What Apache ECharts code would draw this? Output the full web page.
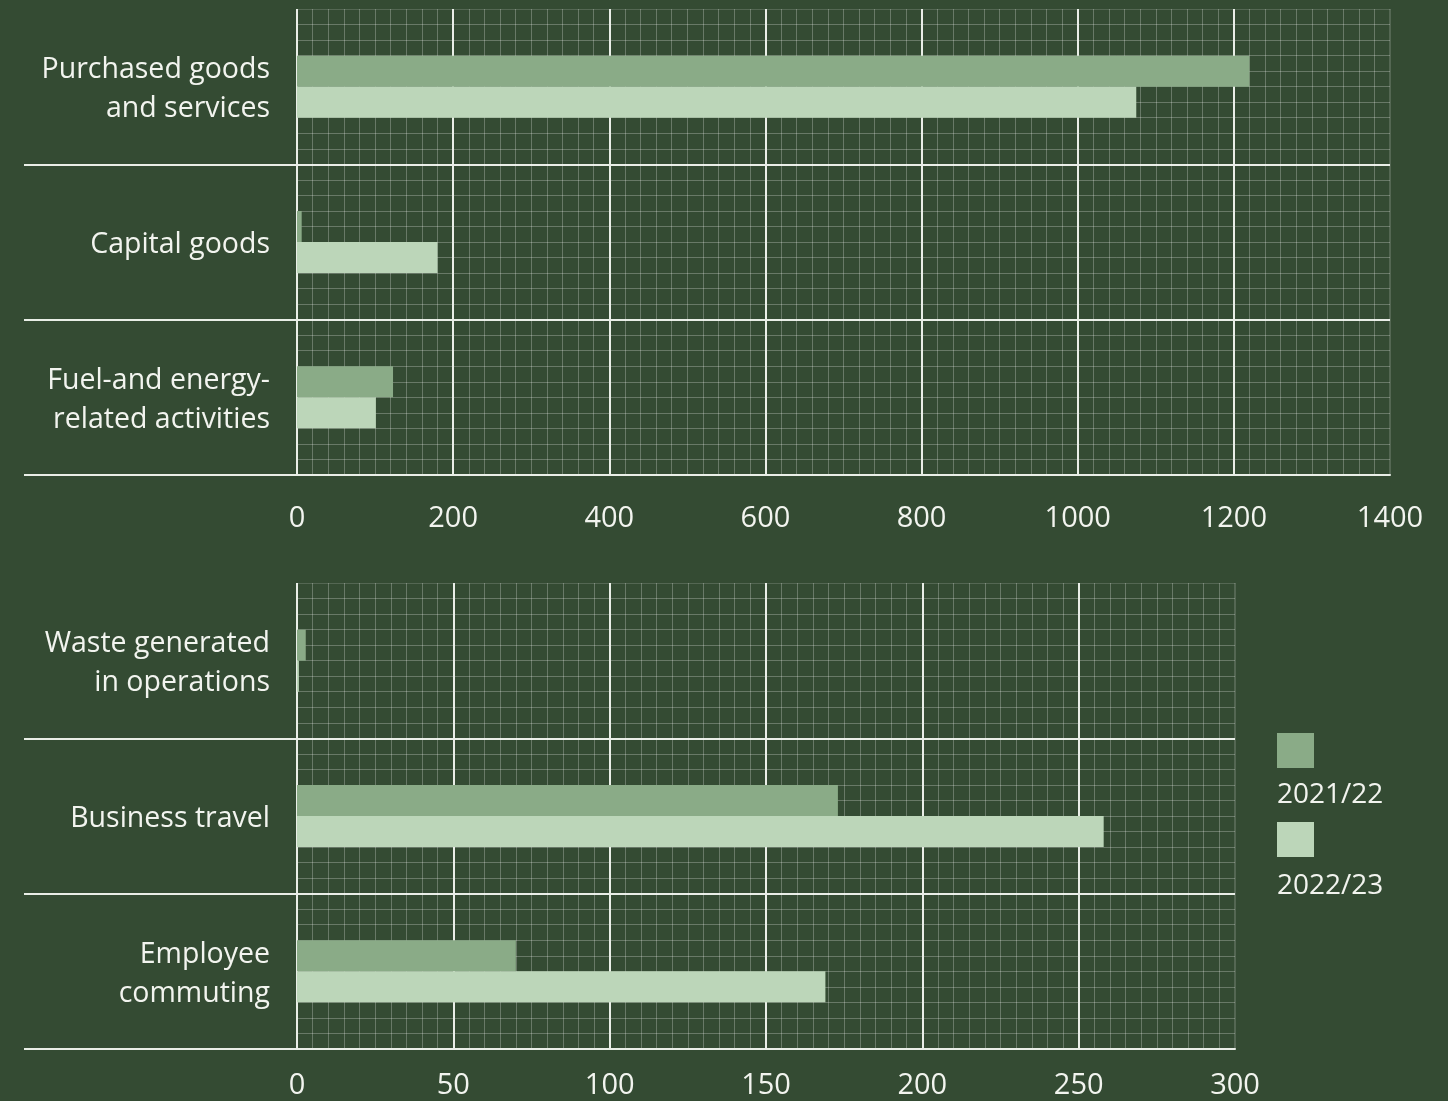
<!DOCTYPE html>
<html>
<head>
<meta charset="utf-8">
<script src="https://cdn.jsdelivr.net/npm/echarts@6/dist/echarts.min.js"></script>
<style>
  html, body { margin: 0; padding: 0; background: #344b33; }
  #chart { width: 1448px; height: 1101px; }
</style>
</head>
<body>
<div id="chart"></div>
<script>
// ---- data ----
const seriesNames = ['2021/22', '2022/23'];

const topCategories = ['Purchased goods\nand services', 'Capital goods', 'Fuel-and energy-\nrelated activities'];
const top2021_22 = [1220, 6, 123];
const top2022_23 = [1075, 180, 101];
const topTicks = [0, 200, 400, 600, 800, 1000, 1200, 1400];

const bottomCategories = ['Waste generated\nin operations', 'Business travel', 'Employee\ncommuting'];
const bottom2021_22 = [2.8, 173, 70];
const bottom2022_23 = [0.6, 258, 169];
const bottomTicks = [0, 50, 100, 150, 200, 250, 300];

// ---- style ----
const BG = '#344b33';
const WHITE = '#e9eee7';
const FAINT = 'rgba(255,255,255,0.26)';
const EDGE = 'rgba(255,255,255,0.16)';
const COL_A = '#8aab87';
const COL_B = '#bcd6b9';
const FONT = 'Open Sans';
const TEXT = '#f2f4ef';

function xAxes(gridIndex, ticks) {
  const n = ticks.length;
  const splitColors = ticks.map((t, i) => i === n - 1 ? EDGE : WHITE);
  return [
    {
      gridIndex, type: 'value', position: 'bottom',
      min: ticks[0], max: ticks[n - 1], interval: ticks[1] - ticks[0],
      axisLine: { show: true, lineStyle: { color: WHITE, width: 2 } },
      axisTick: { show: false },
      axisLabel: {
        color: TEXT, fontFamily: FONT, fontSize: 29, margin: gridIndex === 0 ? 29 : 22,
        formatter: v => String(v)
      },
      splitLine: { show: true, lineStyle: { color: splitColors, width: 2 } },
      minorTick: { show: false, splitNumber: 10 },
      minorSplitLine: { show: true, lineStyle: { color: FAINT, width: 1 } }
    },
    {
      gridIndex, type: 'value', position: 'top',
      min: ticks[0], max: ticks[n - 1], interval: ticks[1] - ticks[0],
      axisLine: { show: true, lineStyle: { color: EDGE, width: 1 } },
      axisTick: { show: false }, axisLabel: { show: false },
      splitLine: { show: false }
    }
  ];
}

function yAxes(gridIndex, cats) {
  return [
    {
      gridIndex, type: 'category', position: 'left', inverse: true, data: cats,
      axisLine: { show: false }, axisTick: { show: false },
      axisLabel: {
        color: TEXT, fontFamily: FONT, fontSize: 28.5, lineHeight: 39, margin: 27, align: 'right',
        formatter: v => '{s| }\n' + v,
        rich: { s: { fontSize: 1, lineHeight: 6 } }
      },
      splitLine: { show: false }
    },
    {
      gridIndex, type: 'value', position: 'left',
      min: 0, max: cats.length, interval: 1,
      axisLine: { show: false }, axisLabel: { show: false },
      axisTick: { show: true, length: 273, customValues: [0, 1, 2], lineStyle: { color: WHITE, width: 2 } },
      splitLine: { show: true, lineStyle: { color: [WHITE, WHITE, WHITE, EDGE], width: 2 } },
      minorTick: { show: false, splitNumber: 10 },
      minorSplitLine: { show: true, lineStyle: { color: FAINT, width: 1 } }
    }
  ];
}

function bars(name, data, gi, color) {
  return {
    name, type: 'bar', data,
    xAxisIndex: gi * 2, yAxisIndex: gi * 2,
    barWidth: 31, barGap: '0%',
    itemStyle: { color },
    silent: true
  };
}

const option = {
  backgroundColor: BG,
  animation: false,
  grid: [
    { left: 297, top: 9, right: 58, height: 466 },
    { left: 297, top: 583, width: 938, height: 466 }
  ],
  xAxis: [...xAxes(0, topTicks), ...xAxes(1, bottomTicks)],
  yAxis: [...yAxes(0, topCategories), ...yAxes(1, bottomCategories)],
  legend: [
    {
      data: seriesNames, orient: 'vertical', left: 1277, top: 733, padding: 0,
      icon: 'rect', itemWidth: 37, itemHeight: 35, itemGap: 54,
      formatter: () => '', selectedMode: false
    },
    {
      data: seriesNames, orient: 'vertical', left: 1272, top: 778, padding: 0,
      icon: 'none', itemWidth: 0, itemHeight: 0, itemGap: 57,
      textStyle: { color: TEXT, fontFamily: FONT, fontSize: 28, lineHeight: 34 },
      selectedMode: false
    }
  ],
  series: [
    bars(seriesNames[0], top2021_22, 0, COL_A),
    bars(seriesNames[1], top2022_23, 0, COL_B),
    bars(seriesNames[0], bottom2021_22, 1, COL_A),
    bars(seriesNames[1], bottom2022_23, 1, COL_B)
  ]
};

const chart = echarts.init(document.getElementById('chart'));
chart.setOption(option);
</script>
</body>
</html>
